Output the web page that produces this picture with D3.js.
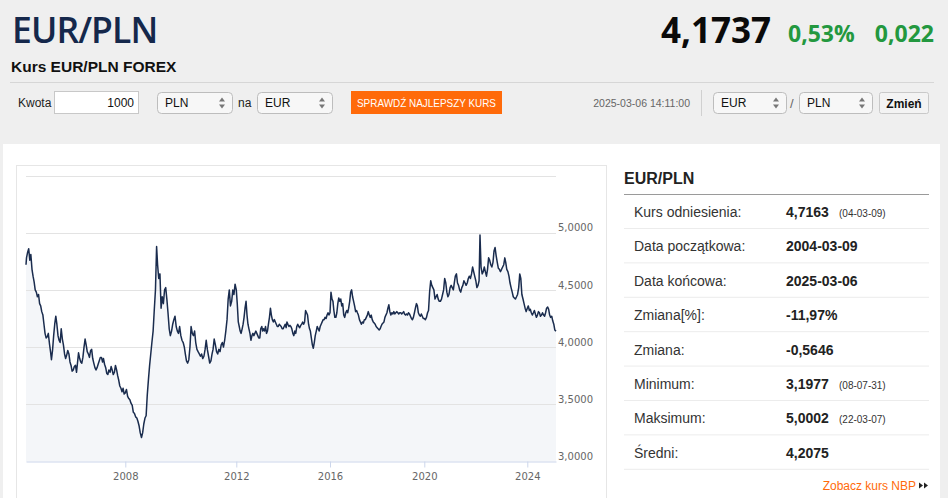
<!DOCTYPE html>
<html>
<head>
<meta charset="utf-8">
<script src="https://cdn.jsdelivr.net/npm/d3@7"></script>
<style>
  body { margin: 0; background: #efefef; }
  svg { display: block; }
</style>
</head>
<body>
<svg id="page"></svg>
<script>
// EUR/PLN rate, two readings per month (1st and 16th)
const rate2004 = [4.72, 4.78, 4.83, 4.86, 4.76, 4.81, 4.68, 4.62, 4.57, 4.50, 4.48, 4.44, 4.46, 4.38, 4.36, 4.31, 4.28, 4.20, 4.12, 4.08];
const rate2005 = [4.09, 4.12, 4.03, 3.96, 3.89, 3.97, 4.10, 4.20, 4.27, 4.20, 4.10, 4.06, 4.04, 4.16, 4.07, 4.02, 3.94, 3.90, 3.93, 3.97, 3.94, 3.87, 3.84, 3.79];
const rate2006 = [3.80, 3.83, 3.84, 3.78, 3.86, 3.95, 3.90, 3.87, 3.86, 3.91, 4.00, 4.07, 4.02, 3.96, 3.94, 3.91, 3.97, 3.98, 3.90, 3.86, 3.82, 3.80, 3.82, 3.85];
const rate2007 = [3.88, 3.91, 3.91, 3.87, 3.90, 3.85, 3.82, 3.77, 3.76, 3.80, 3.78, 3.83, 3.80, 3.76, 3.78, 3.84, 3.80, 3.75, 3.71, 3.66, 3.64, 3.61, 3.64, 3.59];
const rate2008 = [3.60, 3.63, 3.57, 3.55, 3.54, 3.51, 3.49, 3.43, 3.42, 3.39, 3.38, 3.35, 3.31, 3.25, 3.21, 3.25, 3.33, 3.38, 3.40, 3.58, 3.72, 3.84, 3.94, 4.04];
const rate2009 = [4.14, 4.32, 4.50, 4.88, 4.72, 4.60, 4.64, 4.34, 4.44, 4.38, 4.50, 4.52, 4.42, 4.30, 4.16, 4.10, 4.14, 4.20, 4.24, 4.27, 4.18, 4.14, 4.12, 4.18];
const rate2010 = [4.10, 4.06, 4.04, 4.00, 3.94, 3.88, 3.86, 3.89, 4.00, 4.18, 4.12, 4.10, 4.14, 4.04, 3.98, 3.96, 3.94, 3.92, 3.94, 3.90, 3.92, 3.98, 4.06, 3.98];
const rate2011 = [3.92, 3.86, 3.88, 3.94, 3.98, 4.07, 4.02, 3.96, 3.94, 3.98, 3.96, 4.02, 4.04, 4.00, 4.06, 4.14, 4.24, 4.42, 4.50, 4.36, 4.40, 4.50, 4.46, 4.55];
const rate2012 = [4.50, 4.38, 4.22, 4.18, 4.14, 4.12, 4.16, 4.20, 4.26, 4.34, 4.40, 4.28, 4.20, 4.16, 4.12, 4.06, 4.10, 4.12, 4.10, 4.12, 4.14, 4.12, 4.10, 4.08];
const rate2013 = [4.08, 4.16, 4.18, 4.14, 4.16, 4.14, 4.18, 4.12, 4.14, 4.20, 4.26, 4.34, 4.28, 4.24, 4.22, 4.24, 4.22, 4.20, 4.18, 4.18, 4.20, 4.19, 4.18, 4.16];
const rate2014 = [4.16, 4.18, 4.20, 4.17, 4.22, 4.20, 4.18, 4.19, 4.18, 4.16, 4.12, 4.10, 4.14, 4.12, 4.18, 4.20, 4.18, 4.17, 4.19, 4.20, 4.22, 4.20, 4.22, 4.32];
const rate2015 = [4.30, 4.28, 4.20, 4.16, 4.14, 4.08, 4.02, 3.99, 4.04, 4.10, 4.14, 4.18, 4.16, 4.14, 4.18, 4.20, 4.22, 4.24, 4.24, 4.26, 4.25, 4.28, 4.30, 4.28];
const rate2016 = [4.30, 4.48, 4.42, 4.40, 4.32, 4.26, 4.26, 4.30, 4.38, 4.43, 4.40, 4.42, 4.36, 4.38, 4.28, 4.26, 4.30, 4.32, 4.30, 4.34, 4.40, 4.48, 4.50, 4.44];
const rate2017 = [4.40, 4.36, 4.31, 4.32, 4.30, 4.28, 4.24, 4.22, 4.20, 4.22, 4.21, 4.24, 4.24, 4.26, 4.28, 4.31, 4.28, 4.26, 4.28, 4.24, 4.22, 4.21, 4.20, 4.18];
const rate2018 = [4.17, 4.16, 4.15, 4.16, 4.18, 4.20, 4.21, 4.22, 4.26, 4.28, 4.30, 4.34, 4.37, 4.31, 4.28, 4.30, 4.29, 4.31, 4.29, 4.30, 4.31, 4.30, 4.29, 4.30];
const rate2019 = [4.30, 4.29, 4.30, 4.31, 4.29, 4.28, 4.29, 4.28, 4.30, 4.29, 4.27, 4.25, 4.24, 4.26, 4.30, 4.34, 4.38, 4.36, 4.30, 4.28, 4.27, 4.29, 4.27, 4.25];
const rate2020 = [4.25, 4.24, 4.26, 4.30, 4.32, 4.48, 4.58, 4.54, 4.52, 4.50, 4.42, 4.44, 4.46, 4.42, 4.40, 4.40, 4.42, 4.46, 4.50, 4.60, 4.56, 4.48, 4.44, 4.46];
const rate2021 = [4.52, 4.54, 4.52, 4.50, 4.56, 4.62, 4.64, 4.56, 4.54, 4.50, 4.48, 4.52, 4.54, 4.58, 4.56, 4.54, 4.56, 4.60, 4.62, 4.60, 4.64, 4.70, 4.66, 4.62];
const rate2022 = [4.58, 4.52, 4.54, 4.58, 4.98, 4.70, 4.64, 4.66, 4.70, 4.66, 4.62, 4.68, 4.78, 4.76, 4.72, 4.70, 4.74, 4.84, 4.87, 4.80, 4.74, 4.69, 4.68, 4.66];
const rate2023 = [4.68, 4.70, 4.72, 4.78, 4.74, 4.68, 4.66, 4.62, 4.56, 4.52, 4.48, 4.44, 4.43, 4.42, 4.44, 4.46, 4.52, 4.64, 4.60, 4.46, 4.42, 4.38, 4.34, 4.31];
const rate2024 = [4.34, 4.36, 4.32, 4.33, 4.30, 4.28, 4.30, 4.32, 4.29, 4.26, 4.28, 4.31, 4.30, 4.27, 4.28, 4.30, 4.28, 4.27, 4.30, 4.34, 4.35, 4.33, 4.28, 4.26];
const rate2025 = [4.27, 4.23, 4.20, 4.15, 4.14];

const firstDate = new Date(2004, 2, 9);
const lastDate = new Date(2025, 2, 6);

const yTicks = [3.0, 3.5, 4.0, 4.5, 5.0, 5.5];
const yLabelTicks = [3.0, 3.5, 4.0, 4.5, 5.0];
const xTickYears = [2008, 2012, 2016, 2020, 2024];

const statLabels = ["Kurs odniesienia:", "Data początkowa:", "Data końcowa:", "Zmiana[%]:", "Zmiana:", "Minimum:", "Maksimum:", "Średni:"];
const statValues = ["4,7163", "2004-03-09", "2025-03-06", "-11,97%", "-0,5646", "3,1977", "5,0002", "4,2075"];
const statDates = ["(04-03-09)", "", "", "", "", "(08-07-31)", "(22-03-07)", ""];

const width = 948;
const height = 498;
const sans = "'Liberation Sans', Arial, sans-serif";
const open = "'Open Sans', sans-serif";

// build the series: 1st and 16th of every month
const rateYears = [rate2004, rate2005, rate2006, rate2007, rate2008, rate2009, rate2010, rate2011,
    rate2012, rate2013, rate2014, rate2015, rate2016, rate2017, rate2018, rate2019, rate2020,
    rate2021, rate2022, rate2023, rate2024, rate2025];
let series = [];
rateYears.forEach(function (vals, k) {
    const year = 2004 + k;
    const startMonth = year === 2004 ? 2 : 0;
    vals.forEach(function (v, i) {
        series.push({ date: new Date(year, startMonth + Math.floor(i / 2), i % 2 ? 16 : 1), rate: v });
    });
});
series[0].date = firstDate;
series[series.length - 1].date = lastDate;

const svg = d3.select("#page")
    .attr("width", width)
    .attr("height", height);

// ---------- header ----------
svg.append("text")
    .attr("x", 12).attr("y", 43)
    .style("font-family", open).style("font-weight", 600).style("font-size", "35.5px")
    .style("letter-spacing", "-0.9px")
    .style("fill", "#15284b")
    .text("EUR/PLN");

svg.append("text")
    .attr("x", 11).attr("y", 72)
    .style("font-family", sans).style("font-weight", "bold").style("font-size", "15.5px")
    .style("fill", "#111")
    .text("Kurs EUR/PLN FOREX");

svg.append("text")
    .attr("x", 771).attr("y", 43).attr("text-anchor", "end")
    .style("font-family", open).style("font-weight", 700).style("font-size", "35px")
    .style("fill", "#0a0a0a")
    .text("4,1737");

svg.append("text")
    .attr("x", 788).attr("y", 42)
    .style("font-family", open).style("font-weight", 700).style("font-size", "23px")
    .style("fill", "#23983f")
    .text("0,53%");

svg.append("text")
    .attr("x", 934).attr("y", 42).attr("text-anchor", "end")
    .style("font-family", open).style("font-weight", 700).style("font-size", "23px")
    .style("fill", "#23983f")
    .text("0,022");

svg.append("line")
    .attr("x1", 10).attr("x2", 934).attr("y1", 82.5).attr("y2", 82.5)
    .style("stroke", "#d6d6d6");

// ---------- converter row ----------
const bar = svg.append("g").style("font-family", sans).style("font-size", "12px");

bar.append("text").attr("x", 18).attr("y", 107).style("fill", "#222").text("Kwota");
bar.append("rect").attr("x", 54.5).attr("y", 91.5).attr("width", 84).attr("height", 22)
    .style("fill", "#fff").style("stroke", "#c8c8c8");
bar.append("text").attr("x", 134).attr("y", 107).attr("text-anchor", "end").style("fill", "#111").text("1000");

function drawSelect(x, w, label) {
    const g = bar.append("g").attr("transform", "translate(" + x + ",92)");
    g.append("rect").attr("x", 0.5).attr("y", 0.5).attr("width", w).attr("height", 21).attr("rx", 4)
        .style("fill", "#f7f7f7").style("stroke", "#bdbdbd");
    g.append("text").attr("x", 8).attr("y", 15).style("fill", "#111").text(label);
    const ax = w - 10;
    g.append("path").attr("d", "M" + (ax - 3) + ",9.5L" + ax + ",5.5L" + (ax + 3) + ",9.5Z").style("fill", "#777");
    g.append("path").attr("d", "M" + (ax - 3) + ",12.5L" + ax + ",16.5L" + (ax + 3) + ",12.5Z").style("fill", "#777");
}

drawSelect(157, 75, "PLN");
bar.append("text").attr("x", 238).attr("y", 107).style("fill", "#222").text("na");
drawSelect(257, 75, "EUR");

bar.append("rect").attr("x", 351).attr("y", 91).attr("width", 151).attr("height", 23)
    .style("fill", "#ff6a0a");
bar.append("text").attr("x", 357).attr("y", 106.5)
    .attr("textLength", 139).attr("lengthAdjust", "spacingAndGlyphs")
    .style("fill", "#fff").style("font-size", "11.5px")
    .text("SPRAWDŹ NAJLEPSZY KURS");

bar.append("text").attr("x", 690).attr("y", 107).attr("text-anchor", "end")
    .style("fill", "#666").style("font-size", "10.5px")
    .text("2025-03-06 14:11:00");

bar.append("line").attr("x1", 701.5).attr("x2", 701.5).attr("y1", 90).attr("y2", 116)
    .style("stroke", "#d0d0d0");

drawSelect(713, 73, "EUR");
bar.append("text").attr("x", 790).attr("y", 108).style("fill", "#666").style("font-size", "13px").text("/");
drawSelect(799, 73, "PLN");

bar.append("rect").attr("x", 879.5).attr("y", 92.5).attr("width", 49).attr("height", 21).attr("rx", 2)
    .style("fill", "#f3f3f3").style("stroke", "#c9c9c9");
bar.append("text").attr("x", 904).attr("y", 108).attr("text-anchor", "middle")
    .style("font-weight", "bold").style("fill", "#111").text("Zmień");

// ---------- main panel ----------
svg.append("rect").attr("x", 3).attr("y", 144).attr("width", 937).attr("height", height - 144)
    .style("fill", "#fff");
svg.append("rect").attr("x", 16.5).attr("y", 165.5).attr("width", 590).attr("height", height)
    .style("fill", "none").style("stroke", "#e6e6e6");

// ---------- chart ----------
const plotLeft = 26;
const plotRight = 556;
const plotBottom = 461.5;

const xBreaks = [firstDate].concat(xTickYears.map(yr => new Date(yr, 0, 1)), [lastDate]);
// Highcharts spaced the years unevenly; keep those positions through a piecewise time scale
const xBreakPos = [0, 99.3, 210.3, 304, 398.3, 501.3, 530];

const x = d3.scaleTime()
    .domain(xBreaks)
    .range(xBreakPos.map(p => plotLeft + p));

const y = d3.scaleLinear()
    .domain([3, 5.5])
    .range([plotBottom, 175.5]);

const plFormat = d3.formatLocale({ decimal: ",", thousands: " ", grouping: [3], currency: ["", ""] }).format(".4f");

svg.append("g")
    .selectAll("line")
    .data(yTicks.filter(t => t > 3))
    .enter()
    .append("line")
    .attr("x1", plotLeft).attr("x2", plotRight)
    .attr("y1", d => Math.round(y(d)) + 0.5).attr("y2", d => Math.round(y(d)) + 0.5)
    .style("stroke", "#e3e3e3");

const area = d3.area()
    .x(d => x(d.date))
    .y0(y(3))
    .y1(d => y(d.rate));

const line = d3.line()
    .x(d => x(d.date))
    .y(d => y(d.rate));

svg.append("path")
    .datum(series)
    .attr("d", area)
    .style("fill", "#f4f6f9");

// redraw gridlines faintly over the fill
svg.append("g")
    .selectAll("line")
    .data(yTicks.filter(t => t > 3 && t < 5.5))
    .enter()
    .append("line")
    .attr("x1", plotLeft).attr("x2", plotRight)
    .attr("y1", d => Math.round(y(d)) + 0.5).attr("y2", d => Math.round(y(d)) + 0.5)
    .style("stroke", "#e3e3e3");

svg.append("path")
    .datum(series)
    .attr("d", line)
    .style("fill", "none")
    .style("stroke", "#1a2c4e")
    .style("stroke-width", 1.5)
    .style("stroke-linejoin", "round");

const yAxis = svg.append("g")
    .attr("transform", "translate(" + (plotRight + 1) + ",-5)")
    .call(d3.axisRight(y).tickValues(yLabelTicks).tickSize(0).tickPadding(1).tickFormat(plFormat));
yAxis.select(".domain").remove();
yAxis.selectAll("text")
    .style("font-family", "'DejaVu Sans', sans-serif").style("font-size", "10px").style("fill", "#666");

const xAxis = svg.append("g")
    .attr("transform", "translate(0," + plotBottom + ")")
    .call(d3.axisBottom(x).tickValues(xTickYears.map(yr => new Date(yr, 0, 1)))
        .tickSize(6).tickSizeOuter(0).tickPadding(5).tickFormat(d3.timeFormat("%Y")));
xAxis.select(".domain").style("stroke", "#ccd6eb");
xAxis.selectAll(".tick line").style("stroke", "#ccd6eb");
xAxis.selectAll("text")
    .style("font-family", "'DejaVu Sans', sans-serif").style("font-size", "10px").style("fill", "#666");

// ---------- stats table ----------
const tbl = svg.append("g").style("font-family", sans);
const tblLeft = 624;
const tblRight = 929;
const rowTop = 194;
const rowH = 34.4;

tbl.append("text").attr("x", tblLeft).attr("y", 183.5)
    .style("font-weight", "bold").style("font-size", "16px").style("fill", "#222")
    .text("EUR/PLN");
tbl.append("line").attr("x1", tblLeft).attr("x2", tblRight).attr("y1", rowTop + 0.5).attr("y2", rowTop + 0.5)
    .style("stroke", "#9a9a9a");

const rows = tbl.selectAll(".row")
    .data(statLabels)
    .enter()
    .append("g")
    .attr("class", "row")
    .attr("transform", (d, i) => "translate(0," + (rowTop + i * rowH) + ")");

rows.append("line")
    .attr("x1", tblLeft).attr("x2", tblRight)
    .attr("y1", Math.round(rowH) + 0.5).attr("y2", Math.round(rowH) + 0.5)
    .style("stroke", "#ececec");

rows.append("text")
    .attr("x", 634).attr("y", 23)
    .style("font-size", "14px").style("fill", "#333")
    .text(d => d);

rows.append("text")
    .attr("x", 786).attr("y", 23)
    .style("font-size", "14px").style("font-weight", "bold").style("fill", "#222")
    .text((d, i) => statValues[i]);

rows.append("text")
    .attr("x", 839).attr("y", 22.5)
    .style("font-size", "10px").style("fill", "#333")
    .text((d, i) => statDates[i]);

tbl.append("text").attr("x", 916).attr("y", 489.5).attr("text-anchor", "end")
    .style("font-size", "12px").style("fill", "#ff6a0a")
    .text("Zobacz kurs NBP");
[919, 924].forEach(function (ax) {
    tbl.append("path")
        .attr("d", "M" + ax + ",482.5L" + (ax + 4) + ",485.5L" + ax + ",488.5Z")
        .style("fill", "#222");
});
</script>
</body>
</html>
